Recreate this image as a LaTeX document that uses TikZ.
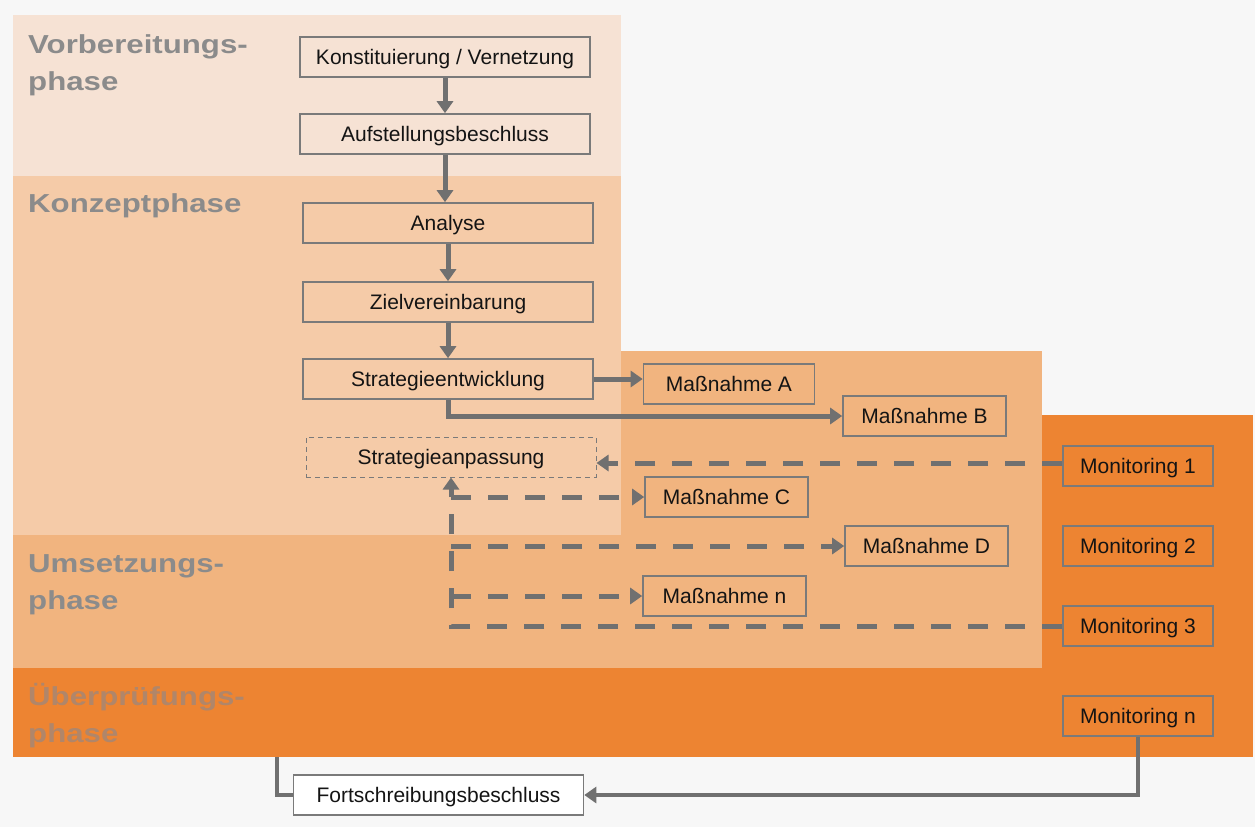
\documentclass[tikz,border=0pt]{standalone}
\usepackage{fontspec}
\usepackage{graphicx}
\setmainfont{Liberation Sans}
\usetikzlibrary{arrows.meta}
\definecolor{pagebg}{HTML}{F7F7F7}
\definecolor{prepfill}{HTML}{F6E2D4}
\definecolor{conceptfill}{HTML}{F5CBA8}
\definecolor{implfill}{HTML}{F1B47F}
\definecolor{reviewfill}{HTML}{ED8432}
\definecolor{frame}{HTML}{7A7A7A}
\definecolor{flow}{HTML}{707070}
\definecolor{phasetext}{HTML}{8B8B8B}
\definecolor{phasetextdark}{HTML}{B0866A}
\newcommand{\phasetitle}[1]{\scalebox{1.2}[1]{\begin{tabular}[t]{@{}l@{}}#1\end{tabular}}}
\begin{document}
\begin{tikzpicture}[x=1pt,y=-1pt,
  box/.style={draw=frame, line width=1.6pt, minimum height=40pt, inner sep=0pt,
    text height=15pt, text depth=0pt,
    font=\fontsize{21}{24}\selectfont, text=black!92},
  phase/.style={anchor=base west, inner sep=0pt,
    font=\fontsize{26}{37}\selectfont\bfseries, text=phasetext},
  tip/.style={-{Triangle[length=12pt,width=16pt]}},
  solidflow/.style={draw=flow, line width=5pt, tip},
  dashflow/.style={draw=flow, line width=5pt, dash pattern=on 20pt off 17pt, tip},
  loopflow/.style={draw=flow, line width=4pt},
]
\useasboundingbox (0,0) rectangle (1255,827);
\fill[pagebg] (0,0) rectangle (1255,827);

% phase bands
\fill[reviewfill]  (13,415) rectangle (1253,757);
\fill[implfill]    (13,351) rectangle (1042,668);
\fill[conceptfill] (13,176) rectangle (621,535);
\fill[prepfill]    (13,15)  rectangle (621,176);

% phase titles
\node[phase] (tprep)    at (28,53)  {\phasetitle{Vorbereitungs-\\phase}};
\node[phase] (tconcept) at (28,212) {\phasetitle{Konzeptphase}};
\node[phase] (timpl)    at (28,572) {\phasetitle{Umsetzungs-\\phase}};
\node[phase, text=phasetextdark] (treview) at (28,705) {\phasetitle{Überprüfungs-\\phase}};

% process steps
\node[box, minimum width=290pt] (konst)   at (445,57)  {Konstituierung / Vernetzung};
\node[box, minimum width=290pt] (aufst)   at (445,134) {Aufstellungsbeschluss};
\node[box, minimum width=290pt] (analyse) at (448,223) {Analyse};
\node[box, minimum width=290pt] (ziel)    at (448,302) {Zielvereinbarung};
\node[box, minimum width=290pt] (strat)   at (448,379) {Strategieentwicklung};
\node[box, minimum width=290pt, line width=1pt, dash pattern=on 5pt off 4pt]
  (anpass) at (451,457) {Strategieanpassung};

% measures
\node[box, minimum width=171pt] (massA) at (729,384)   {Maßnahme A};
\node[box, minimum width=163pt] (massB) at (924.5,416) {Maßnahme B};
\node[box, minimum width=163pt] (massC) at (726.5,497) {Maßnahme C};
\node[box, minimum width=163pt] (massD) at (926.5,546) {Maßnahme D};
\node[box, minimum width=163pt] (massN) at (724.5,596) {Maßnahme n};

% monitoring
\node[box, minimum width=150pt] (mon1) at (1138,466) {Monitoring 1};
\node[box, minimum width=150pt] (mon2) at (1138,546) {Monitoring 2};
\node[box, minimum width=150pt] (mon3) at (1138,626) {Monitoring 3};
\node[box, minimum width=150pt] (monN) at (1138,716) {Monitoring n};

% update decision
\node[box, minimum width=290pt, fill=white] (fort) at (438.5,795) {Fortschreibungsbeschluss};
\coordinate (loopend) at (277,757);

% main sequence
\draw[solidflow] (konst.south) -- (konst.south |- aufst.north);
\draw[solidflow] (aufst.south) -- (aufst.south |- analyse.north);
\draw[solidflow] (analyse.south) -- (ziel.north);
\draw[solidflow] (ziel.south) -- (strat.north);
\draw[solidflow] (strat.east) -- (strat.east -| massA.west);
\draw[solidflow] (strat.south) |- (massB.west);

% feedback from monitoring
\draw[dashflow] ([yshift=3pt]mon1.west) -- ([yshift=3pt]mon1.west -| anpass.east);
\draw[dashflow] (mon3.west) -| (anpass.south);
\draw[dashflow] (anpass.south |- massC.west) -- (massC.west);
\draw[dashflow] (anpass.south |- massD.west) -- (massD.west);
\draw[dashflow] (anpass.south |- massN.west) -- (massN.west);

% review loop
\draw[loopflow, tip] (monN.south) |- (fort.east);
\draw[loopflow] (fort.west) -| (loopend);
\end{tikzpicture}
\end{document}
